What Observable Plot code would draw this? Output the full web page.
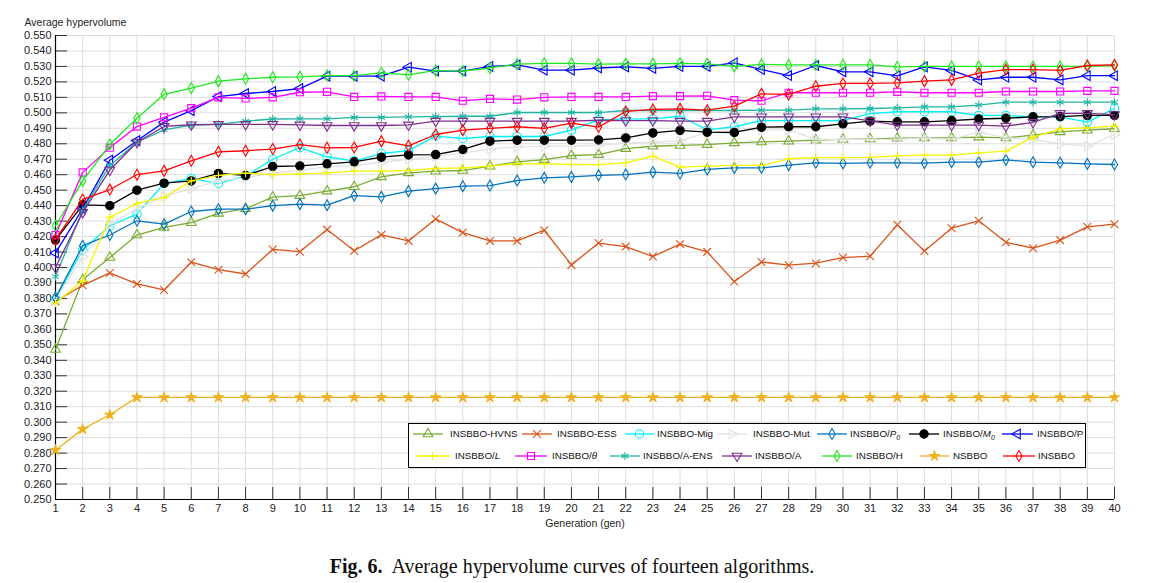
<!DOCTYPE html>
<html>
<head>
<meta charset="utf-8">
<script src="https://cdn.jsdelivr.net/npm/d3@7"></script>
<script src="https://cdn.jsdelivr.net/npm/@observablehq/plot@0.6"></script>
<style>
  body { margin: 0; background: #fff; }
  #wrap { position: relative; width: 1166px; height: 583px; background: #fff; font-family: "Liberation Sans", Arial, sans-serif; }
  #wrap svg.plot { display: block; }
  #legend { position: absolute; left: 408px; top: 423px; width: 676px; height: 43px; border: 1px solid #000; background: #fff; }
  #legend .lbl { position: absolute; font-size: 9.8px; line-height: 12px; white-space: nowrap; color: #111; transform: translateY(-6px); }
  #legend .lbl sub { font-size: 7px; vertical-align: -3px; line-height: 0; }
  #legend svg { position: absolute; left: 0; top: 0; }
  #caption { position: absolute; left: 0; width: 1144px; top: 553px; text-align: center; font-family: "Liberation Serif", "DejaVu Serif", serif; font-size: 20px; line-height: 26px; color: #111; }
</style>
</head>
<body>
<div id="wrap"></div>
<script>
// ---------------- data ----------------
const gens = [1,2,3,4,5,6,7,8,9,10,11,12,13,14,15,16,17,18,19,20,21,22,23,24,25,26,27,28,29,30,31,32,33,34,35,36,37,38,39,40];
const yTicks = [0.25,0.26,0.27,0.28,0.29,0.30,0.31,0.32,0.33,0.34,0.35,0.36,0.37,0.38,0.39,0.40,0.41,0.42,0.43,0.44,0.45,0.46,0.47,0.48,0.49,0.50,0.51,0.52,0.53,0.54,0.55];
const yTickLabels = ["0.250","0.260","0.270","0.280","0.290","0.300","0.310","0.320","0.330","0.340","0.350","0.360","0.370","0.380","0.390","0.400","0.410","0.420","0.430","0.440","0.450","0.460","0.470","0.480","0.490","0.500","0.510","0.520","0.530","0.540","0.550"];

const hvns = [0.347,0.392,0.4065,0.421,0.426,0.429,0.435,0.438,0.4455,0.4465,0.4494,0.4522,0.4586,0.4612,0.4623,0.4627,0.4655,0.4683,0.4698,0.4724,0.473,0.4769,0.4784,0.4789,0.4795,0.4806,0.4812,0.4817,0.4823,0.4828,0.4832,0.4836,0.4838,0.4838,0.4843,0.4838,0.4856,0.4877,0.4888,0.4897];
const ess = [0.378,0.3885,0.3965,0.3894,0.3855,0.4034,0.3986,0.3958,0.4117,0.4102,0.4245,0.4108,0.4211,0.4172,0.4314,0.4226,0.4172,0.4172,0.4241,0.4017,0.4158,0.4135,0.4071,0.4151,0.4101,0.3909,0.4036,0.4015,0.4028,0.4064,0.4073,0.4276,0.4106,0.4254,0.4302,0.4163,0.4125,0.4177,0.4263,0.428];
const mig = [0.380,0.4113,0.427,0.4345,0.4543,0.4576,0.4543,0.4593,0.470,0.4775,0.4716,0.4688,0.4737,0.4756,0.4849,0.4834,0.4847,0.4847,0.4847,0.4888,0.4955,0.4961,0.4961,0.4978,0.489,0.491,0.495,0.495,0.495,0.495,0.4995,0.5007,0.5007,0.5007,0.4983,0.4983,0.4974,0.4974,0.494,0.5028];
const mut = [0.379,0.407,0.428,0.438,0.446,0.451,0.456,0.458,0.461,0.463,0.465,0.466,0.468,0.470,0.472,0.474,0.4765,0.478,0.4785,0.4785,0.479,0.4806,0.481,0.4817,0.4875,0.4885,0.489,0.489,0.4828,0.4828,0.4828,0.4828,0.4838,0.4828,0.4875,0.4838,0.4828,0.480,0.4785,0.486];
const p0 = [0.3804,0.4141,0.421,0.4302,0.428,0.4362,0.4377,0.4377,0.440,0.441,0.4403,0.4465,0.4457,0.4494,0.451,0.4526,0.453,0.4562,0.458,0.4586,0.4596,0.4601,0.4616,0.4608,0.4634,0.4644,0.4644,0.4662,0.4677,0.4673,0.4677,0.4677,0.4675,0.4681,0.4681,0.4696,0.4681,0.4677,0.467,0.4666];
const m0 = [0.4177,0.4405,0.440,0.450,0.4545,0.456,0.4608,0.4595,0.4653,0.4657,0.467,0.4683,0.4713,0.4728,0.473,0.4763,0.4817,0.4823,0.4823,0.4823,0.4825,0.4838,0.487,0.4886,0.4875,0.4873,0.4907,0.491,0.491,0.4929,0.4946,0.4942,0.4942,0.495,0.496,0.4965,0.4974,0.4976,0.4983,0.4983];
const pP = [0.4094,0.438,0.4694,0.482,0.494,0.5014,0.5105,0.5125,0.5138,0.5157,0.5237,0.5237,0.5237,0.5295,0.527,0.527,0.530,0.531,0.5276,0.5276,0.529,0.5297,0.5287,0.530,0.530,0.5323,0.528,0.5241,0.5306,0.5265,0.5265,0.5239,0.5297,0.5274,0.5213,0.523,0.523,0.5213,0.524,0.524];
const lL = [0.377,0.3915,0.4324,0.4414,0.4453,0.456,0.4595,0.461,0.460,0.4605,0.4612,0.4623,0.4623,0.4627,0.464,0.4644,0.4655,0.4672,0.467,0.4666,0.4665,0.4677,0.472,0.4649,0.4655,0.466,0.466,0.4703,0.471,0.471,0.4712,0.4722,0.4726,0.4726,0.4741,0.4752,0.4843,0.4897,0.4903,0.4914];
const theta = [0.421,0.4615,0.4775,0.4911,0.4971,0.503,0.510,0.5093,0.510,0.5133,0.5136,0.5103,0.5106,0.5103,0.5103,0.5078,0.509,0.5086,0.510,0.5103,0.5103,0.5103,0.5108,0.5108,0.511,0.5082,0.5078,0.513,0.513,0.513,0.513,0.5136,0.513,0.513,0.513,0.5138,0.5138,0.5138,0.5142,0.5142];
const aens = [0.3941,0.437,0.466,0.481,0.489,0.492,0.4925,0.4946,0.496,0.4961,0.4961,0.497,0.497,0.4974,0.4976,0.4978,0.4978,0.5002,0.5002,0.5002,0.5002,0.5015,0.5015,0.5015,0.5015,0.5015,0.5017,0.5017,0.5026,0.5026,0.5028,0.5032,0.5039,0.5039,0.505,0.5069,0.5069,0.5069,0.5069,0.5069];
const aA = [0.400,0.4356,0.463,0.481,0.4912,0.4923,0.4925,0.4925,0.4925,0.4922,0.4918,0.4918,0.4918,0.4922,0.4946,0.4946,0.4946,0.4946,0.4946,0.4946,0.4952,0.495,0.495,0.4946,0.4946,0.4974,0.4974,0.4974,0.4974,0.4974,0.4948,0.4921,0.492,0.492,0.492,0.4914,0.4938,0.4996,0.4996,0.4989];
const hH = [0.427,0.456,0.4795,0.4965,0.512,0.516,0.5205,0.522,0.523,0.5233,0.5241,0.524,0.5259,0.5246,0.5274,0.527,0.529,0.5315,0.532,0.532,0.5315,0.5317,0.5317,0.532,0.5317,0.530,0.5313,0.531,0.531,0.531,0.531,0.5297,0.530,0.530,0.530,0.530,0.530,0.530,0.530,0.5306];
const nsbbo = [0.2819,0.2955,0.3048,0.316,0.316,0.316,0.316,0.316,0.316,0.316,0.316,0.316,0.316,0.316,0.316,0.316,0.316,0.316,0.316,0.316,0.316,0.316,0.316,0.316,0.316,0.316,0.316,0.316,0.316,0.316,0.316,0.316,0.316,0.316,0.316,0.316,0.316,0.316,0.316,0.316];
const insbbo = [0.418,0.444,0.4504,0.460,0.4625,0.469,0.4748,0.4755,0.4766,0.4795,0.4774,0.4776,0.4817,0.4787,0.486,0.4888,0.490,0.491,0.490,0.4933,0.4908,0.5009,0.5022,0.5026,0.5017,0.5043,0.5123,0.5119,0.5172,0.519,0.519,0.5194,0.5205,0.5213,0.5257,0.528,0.528,0.5274,0.5306,0.531];

const seriesNames = ["INSBBO-HVNS","INSBBO-ESS","INSBBO-Mig","INSBBO-Mut","INSBBO/P0","INSBBO/M0","INSBBO/P","INSBBO/L","INSBBO/θ","INSBBO/A-ENS","INSBBO/A","INSBBO/H","NSBBO","INSBBO"];
const seriesValues = [hvns, ess, mig, mut, p0, m0, pP, lL, theta, aens, aA, hH, nsbbo, insbbo];

// ---------------- styles ----------------
const styles = [
  {color:"#77AC30", symbol:"triangle", rotate:0,   r:3.6, fill:"none"},
  {color:"#D95319", symbol:"times",    rotate:0,   r:3.6, fill:"none"},
  {color:"#00F0F8", symbol:"circle",   rotate:0,   r:4.2, fill:"none"},
  {color:"#E2E2E2", symbol:"triangle", rotate:90,  r:3.6, fill:"none"},
  {color:"#0072BD", symbol:"diamond",  rotate:0,   r:3.3, fill:"none"},
  {color:"#000000", symbol:"circle",   rotate:0,   r:4.2, fill:"#000000"},
  {color:"#0000FF", symbol:"triangle", rotate:-90, r:3.6, fill:"none"},
  {color:"#F5F500", symbol:"plus",     rotate:0,   r:2.8, fill:"none"},
  {color:"#FF00FF", symbol:"square",   rotate:0,   r:4.0, fill:"none"},
  {color:"#1FB5A2", symbol:"asterisk", rotate:0,   r:3.8, fill:"none"},
  {color:"#7E2F8E", symbol:"triangle", rotate:180, r:3.6, fill:"none"},
  {color:"#1EE81E", symbol:"diamond",  rotate:0,   r:3.3, fill:"none"},
  {color:"#EDB120", symbol:"star",     rotate:0,   r:3.0, fill:"#EDB120"},
  {color:"#FF0000", symbol:"diamond",  rotate:0,   r:3.3, fill:"none"}
];

const tables = seriesValues.map((vals, k) => gens.map((g, i) => ({gen: g, value: vals[i], name: seriesNames[k]})));

const seriesMarks = [];
tables.forEach((t, k) => {
  const s = styles[k];
  seriesMarks.push(Plot.line(t, {x: "gen", y: "value", stroke: s.color, strokeWidth: 1.3}));
  seriesMarks.push(Plot.dot(t, {x: "gen", y: "value", stroke: s.color, fill: s.fill, symbol: s.symbol, r: s.r, rotate: s.rotate, strokeWidth: 1.1}));
});

const chart = Plot.plot({
  width: 1166,
  height: 535,
  marginTop: 35,
  marginBottom: 36,
  marginLeft: 55,
  marginRight: 52,
  style: {background: "#fff", fontFamily: "'Liberation Sans', Arial, sans-serif", fontSize: "11px", color: "#222"},
  x: {domain: [1, 40]},
  y: {domain: [0.25, 0.55]},
  marks: [
    Plot.ruleX(gens, {x: d => d, stroke: "#dcdcdc", strokeWidth: 1}),
    Plot.ruleY(yTicks, {y: d => d, stroke: "#dcdcdc", strokeWidth: 1}),
    Plot.ruleY(yTicks, {y: d => d, x1: 1, x2: 1, insetRight: -12, stroke: "#333", strokeWidth: 1}),
    Plot.ruleX(gens, {x: d => d, y1: 0.25, y2: 0.25, insetTop: -12, stroke: "#333", strokeWidth: 1}),
    Plot.ruleX([1], {stroke: "#000", strokeWidth: 1.2}),
    Plot.ruleY([0.25], {stroke: "#000", strokeWidth: 1.2}),
    Plot.axisX(gens, {tickSize: 0, tickPadding: 5, tickFormat: d => String(d), label: null, fontSize: 11, fill: "#222"}),
    Plot.axisY(yTicks, {tickSize: 0, tickPadding: 4, tickFormat: d => yTickLabels[yTicks.indexOf(d)], label: null, fontSize: 11, fill: "#222"}),
    Plot.text(["Average hypervolume"], {text: d => d, frameAnchor: "top-left", dx: -31, dy: -17, textAnchor: "start", fontSize: 10.5, fill: "#222"}),
    Plot.text(["Generation (gen)"], {text: d => d, frameAnchor: "bottom", dy: 27, fontSize: 10.5, fill: "#222"}),
    ...seriesMarks
  ]
});
chart.classList.add("plot");
const wrap = document.getElementById("wrap");
wrap.appendChild(chart);

// ---------------- legend ----------------
const legendLayout = [
  // [lineStart, lineEnd, textX, row]
  [413, 443, 450, 0], [522, 552, 557, 0], [625, 654, 657, 0], [717, 747, 753, 0],
  [817, 847, 850, 0], [909, 939, 943, 0], [1002, 1033, 1037, 0],
  [415, 450, 455, 1], [515, 547, 552, 1], [610, 640, 643, 1], [722, 752, 755, 1],
  [822, 852, 856, 1], [920, 949, 953, 1], [1003, 1035, 1038, 1]
];
const legendHTML = [
  "INSBBO-HVNS", "INSBBO-ESS", "INSBBO-Mig", "INSBBO-Mut",
  "INSBBO/<i>P</i><sub><i>0</i></sub>", "INSBBO/<i>M</i><sub><i>0</i></sub>", "INSBBO/P",
  "INSBBO/<i>L</i>", "INSBBO/<i>θ</i>", "INSBBO/A-ENS", "INSBBO/A", "INSBBO/H", "NSBBO", "INSBBO"
];
const symMap = {triangle: d3.symbolTriangle, times: d3.symbolTimes, circle: d3.symbolCircle, diamond: d3.symbolDiamond,
  plus: d3.symbolPlus, square: d3.symbolSquare, asterisk: d3.symbolAsterisk, star: d3.symbolStar};
const legend = d3.select(wrap).append("div").attr("id", "legend");
const lx0 = 409, rowY = [10, 32];
const lsvg = legend.append("svg").attr("width", 676).attr("height", 43);
legendLayout.forEach(([a, b, t, row], k) => {
  const s = styles[k];
  const y = rowY[row];
  lsvg.append("line").attr("x1", a - lx0).attr("x2", b - lx0).attr("y1", y).attr("y2", y)
    .attr("stroke", s.color).attr("stroke-width", 1.3);
  lsvg.append("path").attr("d", d3.symbol(symMap[s.symbol], Math.PI * s.r * s.r)())
    .attr("transform", `translate(${(a + b) / 2 - lx0},${y}) rotate(${s.rotate})`)
    .attr("fill", s.fill).attr("stroke", s.color).attr("stroke-width", 1.1);
  legend.append("div").attr("class", "lbl").style("left", (t - lx0) + "px").style("top", y + "px").html(legendHTML[k]);
});

// ---------------- caption ----------------
d3.select(wrap).append("div").attr("id", "caption")
  .html("<b>Fig. 6.</b>&nbsp; Average hypervolume curves of fourteen algorithms.");
</script>
</body>
</html>
